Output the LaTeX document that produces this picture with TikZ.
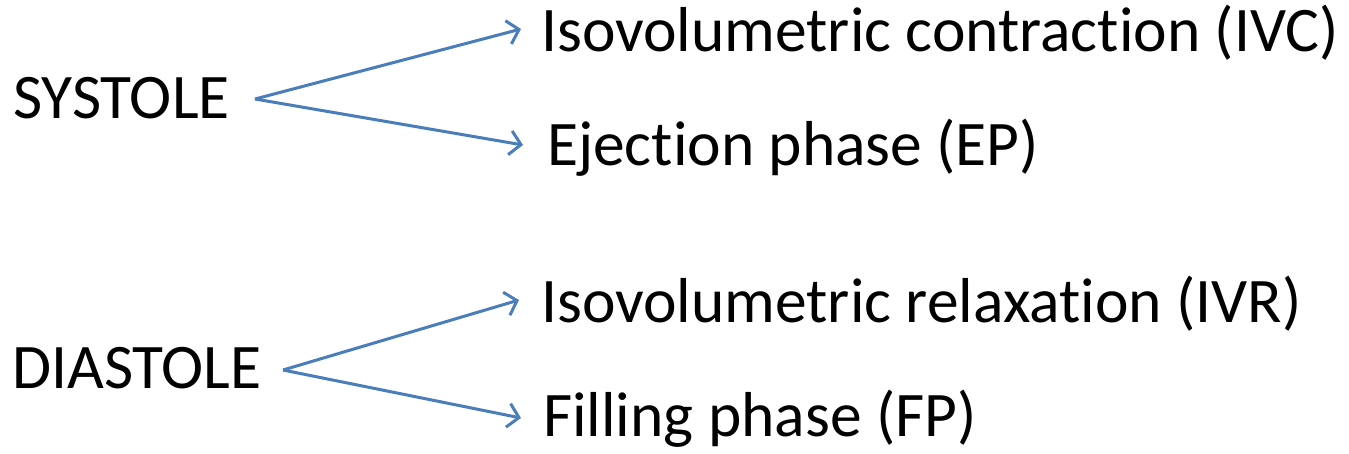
\documentclass[tikz,border=0pt]{standalone}
\usepackage{fontspec}
\setmainfont{Carlito}[Ligatures=NoCommon,RawFeature={-liga;-clig;-calt}]
\usetikzlibrary{arrows.meta}
\definecolor{arrowblue}{RGB}{74,126,187}
\newcommand{\nl}{\kern0pt }
\begin{document}
\begin{tikzpicture}[x=1pt,y=-1pt,
  lbl/.style={anchor=base west,inner sep=0pt,font=\fontsize{63.5}{70}\selectfont},
  conn/.style={draw=arrowblue,line width=3pt,-{Straight Barb[length=11pt,width=24pt,line width=3pt]}}]
\useasboundingbox (0,0) rectangle (1349,453);
\node[lbl] (sys) at (13,118) {SYSTOLE};
\node[lbl] (ivc) at (541,51) {Isovolumetric contract\nl ion (IVC)};
\node[lbl] (ep) at (547,165) {Eject\nl ion phase (EP)};
\node[lbl] (dia) at (12,388) {DIASTOLE};
\node[lbl] (ivr) at (541,322) {Isovolumetric relaxat\nl ion (IVR)};
\node[lbl] (fp) at (543,436) {Filling phase (FP)};
\coordinate (s0) at (255,99);
\coordinate (s1) at (521,29);
\coordinate (s2) at (523,145);
\coordinate (d0) at (283,370);
\coordinate (d1) at (519,300);
\coordinate (d2) at (521,418);
\draw[conn] (s0) -- (s1);
\draw[conn] (s0) -- (s2);
\draw[conn] (d0) -- (d1);
\draw[conn] (d0) -- (d2);
\end{tikzpicture}
\end{document}
